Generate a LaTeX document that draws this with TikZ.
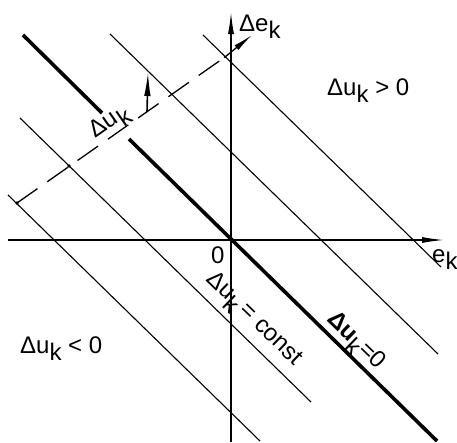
\documentclass[tikz,border=0pt]{standalone}
\usepackage{fontspec}
\setmainfont{Liberation Sans}
\usetikzlibrary{arrows.meta}
\newcommand{\subk}{\raisebox{-0.32em}{k}}
\begin{document}
\begin{tikzpicture}[x=1pt,y=-1pt,
  thinline/.style={line width=1.1pt},
  thickline/.style={line width=3.6pt},
  axisline/.style={line width=1.3pt,-{Latex[length=22pt,width=6pt]}},
  dimline/.style={line width=1.3pt,dash pattern=on 25pt off 12pt},
  arrowline/.style={line width=1.3pt,-{Latex[length=20pt,width=6pt]}},
  lbl/.style={font=\fontsize{24}{26}\selectfont,inner sep=0pt}]
\useasboundingbox (0,0) rectangle (457,442);
% axes
\coordinate (xs) at (8,240);
\coordinate (xe) at (444,240);
\coordinate (ys) at (231,442);
\coordinate (ye) at (231,12);
\draw[axisline] (xs) -- (xe);
\draw[axisline] (ys) -- (ye);
% parallel lines
\coordinate (t1) at (23,35);   \coordinate (t2) at (102,113);
\coordinate (t3) at (129,139); \coordinate (t4) at (437,441);
\draw[thickline] (t1) -- (t2);
\draw[thickline] (t3) -- (t4);
\coordinate (a1) at (110,34);  \coordinate (a2) at (438,354);
\coordinate (b1) at (203,35);  \coordinate (b2) at (441,267);
\coordinate (c1) at (20,118);  \coordinate (c2) at (311,402);
\coordinate (d1) at (8,195);   \coordinate (d2) at (260,441);
\draw[thinline] (a1) -- (a2);
\draw[thinline] (b1) -- (b2);
\draw[thinline] (c1) -- (c2);
\draw[thinline] (d1) -- (d2);
% dimension line
\coordinate (m0) at (17,203);
\coordinate (mc) at (69,166);
\coordinate (mb) at (225,57);
\coordinate (mt) at (252,35);
\draw[dimline] (m0) -- (mb);
\draw[arrowline] (mb) -- (mt);
\fill (m0) circle (1.8pt);
\fill (mc) circle (1.8pt);
\fill (mb) circle (1.4pt);
% du arrow
\coordinate (p0) at (147,112);
\coordinate (p1) at (148,72);
\draw[line width=1.6pt,-{Latex[length=24pt,width=6.5pt]}] (p0) -- (p1);
% labels
\node[lbl,anchor=base west] (lde) at (239,31) {Δe\subk};
\node[lbl,anchor=base west] (le) at (432,262) {e\subk};
\node[lbl,anchor=base west] (lo) at (211,263) {0};
\node[lbl,anchor=base west] (lpos) at (327,95) {Δu\subk\ > 0};
\node[lbl,anchor=base west] (lneg) at (20,353) {Δu\subk\ < 0};
\node[lbl,rotate=35] (ldu) at (110,123) {Δu\subk};
\node[lbl,rotate=-44] (lconst) at (253,320) {Δu\subk\,= const};
\node[lbl,rotate=-44] (lzero) at (355,342) {\textbf{Δu}\subk=0};
\end{tikzpicture}
\end{document}
